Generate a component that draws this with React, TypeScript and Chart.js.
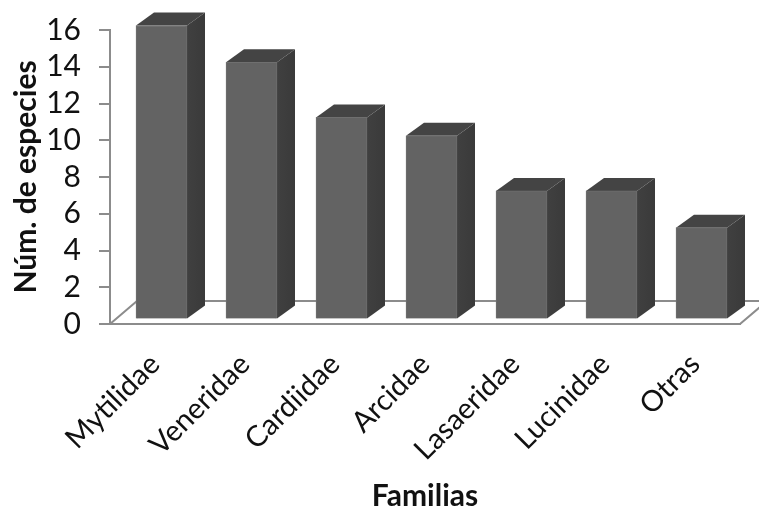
import React, { useEffect, useRef } from "react";
import { Chart, registerables } from "chart.js";

Chart.register(...registerables);

const families = ["Mytilidae", "Veneridae", "Cardiidae", "Arcidae", "Lasaeridae", "Lucinidae", "Otras"];
const speciesCounts = [16, 14, 11, 10, 7, 7, 5];

const FONT = "Lato, Carlito, 'Open Sans', sans-serif";
const AXIS_GREY = "#8c8c8c";

// Pseudo-3D look: bars sit slightly inside the floor, with extruded side and top faces.
const BAR_SHIFT_X = 6.5;
const BAR_SHIFT_Y = -4.5;
const DEPTH_X = 18;
const DEPTH_Y = 13;
const FLOOR_DX = 27;
const FLOOR_DY = 23;

const extrudedBars = {
  id: "extrudedBars",
  beforeDatasetsDraw(chart: any) {
    const { ctx, chartArea } = chart;
    const { left, right, bottom } = chartArea;
    ctx.save();
    ctx.strokeStyle = AXIS_GREY;
    ctx.lineWidth = 2;
    ctx.beginPath();
    ctx.moveTo(left, bottom);
    ctx.lineTo(left + FLOOR_DX, bottom - FLOOR_DY);
    ctx.lineTo(right + FLOOR_DX, bottom - FLOOR_DY);
    ctx.lineTo(right, bottom);
    ctx.stroke();
    ctx.restore();
  },
  beforeDatasetDraw(chart: any) {
    const { ctx } = chart;
    ctx.save();
    ctx.translate(BAR_SHIFT_X, BAR_SHIFT_Y);
    chart.getDatasetMeta(0).data.forEach((bar: any) => {
      const half = bar.width / 2;
      const x0 = bar.x - half;
      const x1 = bar.x + half;
      const top = bar.y;
      const base = bar.base;
      // side face
      const side = ctx.createLinearGradient(x1, 0, x1 + DEPTH_X, 0);
      side.addColorStop(0, "#404040");
      side.addColorStop(1, "#3a3a3a");
      ctx.fillStyle = side;
      ctx.beginPath();
      ctx.moveTo(x1, top);
      ctx.lineTo(x1 + DEPTH_X, top - DEPTH_Y);
      ctx.lineTo(x1 + DEPTH_X, base - DEPTH_Y);
      ctx.lineTo(x1, base);
      ctx.closePath();
      ctx.fill();
      // top face
      ctx.fillStyle = "#444444";
      ctx.beginPath();
      ctx.moveTo(x0, top);
      ctx.lineTo(x0 + DEPTH_X, top - DEPTH_Y);
      ctx.lineTo(x1 + DEPTH_X, top - DEPTH_Y);
      ctx.lineTo(x1, top);
      ctx.closePath();
      ctx.fill();
    });
  },
  afterDatasetDraw(chart: any) {
    chart.ctx.restore();
  },
};

export default function App() {
  const canvasRef = useRef<HTMLCanvasElement>(null);

  useEffect(() => {
    const chart = new Chart(canvasRef.current!, {
      type: "bar",
      data: {
        labels: families,
        datasets: [
          {
            data: speciesCounts,
            backgroundColor: "#636363",
            borderColor: "#6f6f6f",
            borderWidth: 1,
            barThickness: 51,
            clip: false,
          } as any,
        ],
      },
      plugins: [extrudedBars],
      options: {
        responsive: false,
        animation: false,
        layout: { padding: { left: 0, top: 30, right: 19, bottom: 0 } },
        plugins: { legend: { display: false }, tooltip: { enabled: false } },
        scales: {
          y: {
            min: 0,
            max: 16,
            ticks: {
              stepSize: 2,
              autoSkip: false,
              color: "#111111",
              font: { family: FONT, size: 30 },
              padding: 18,
            },
            grid: { drawOnChartArea: false, drawTicks: true, tickLength: 11, color: AXIS_GREY, lineWidth: 2 },
            border: { display: true, color: AXIS_GREY, width: 2 },
            title: {
              display: true,
              text: "Núm. de especies",
              color: "#111111",
              font: { family: FONT, size: 30, weight: "bold" },
              padding: { top: 8, bottom: 0 },
            },
            afterFit(scale: any) {
              scale.width = 110;
              scale.paddingTop = 0;
              scale.paddingBottom = 0;
            },
          },
          x: {
            ticks: {
              color: "#111111",
              font: { family: FONT, size: 29 },
              maxRotation: 45,
              minRotation: 45,
              autoSkip: false,
              padding: 15,
            },
            grid: { display: false },
            border: { display: true, color: AXIS_GREY, width: 2 },
            title: {
              display: true,
              text: "Familias",
              color: "#111111",
              font: { family: FONT, size: 30, weight: "bold" },
              padding: { top: 0, bottom: -6 },
            },
            afterFit(scale: any) {
              scale.height = 184;
            },
          },
        },
      },
    });
    return () => chart.destroy();
  }, []);

  return (
    <div style={{ position: "fixed", left: 0, top: 0, width: 759, height: 508, background: "#ffffff" }}>
      <canvas ref={canvasRef} width={759} height={508} style={{ display: "block" }} />
    </div>
  );
}
